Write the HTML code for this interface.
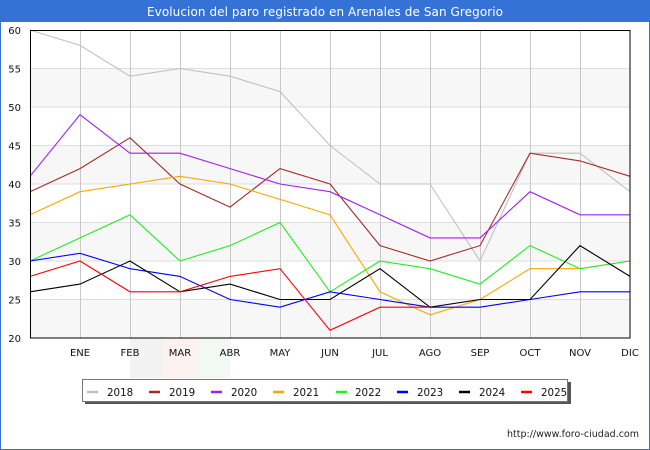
<!DOCTYPE html>
<html><head><meta charset="utf-8"><style>
html,body{margin:0;padding:0;background:#fff;}
svg{display:block;}
text{font-family:"DejaVu Sans","Liberation Sans",sans-serif;}
</style></head><body>
<svg width="650" height="450" viewBox="0 0 650 450" xmlns="http://www.w3.org/2000/svg">
<rect x="0" y="0" width="650" height="450" fill="#fff"/>
<rect x="0.5" y="0.5" width="649" height="449" fill="none" stroke="#3572d5" stroke-width="1"/>
<rect x="0" y="0" width="650" height="22" fill="#3572d5"/>
<text x="325" y="16" font-size="12" fill="#fff" text-anchor="middle" textLength="356">Evolucion del paro registrado en Arenales de San Gregorio</text>

<!-- watermark -->
<rect x="130" y="338" width="33" height="40" fill="#f2f2f2"/>
<rect x="163" y="338" width="34" height="40" fill="#fdf2f2"/>
<rect x="197" y="338" width="33" height="40" fill="#f2f8f2"/>

<!-- bands -->
<rect x="30" y="68.5" width="600" height="38.5" fill="#f7f7f7"/>
<rect x="30" y="145.5" width="600" height="38.5" fill="#f7f7f7"/>
<rect x="30" y="222.5" width="600" height="38.5" fill="#f7f7f7"/>
<rect x="30" y="299.5" width="600" height="38.5" fill="#f7f7f7"/>

<g stroke="#dedede" stroke-width="1">
<line x1="30" y1="68.5" x2="630" y2="68.5"/>
<line x1="30" y1="107" x2="630" y2="107"/>
<line x1="30" y1="145.5" x2="630" y2="145.5"/>
<line x1="30" y1="184" x2="630" y2="184"/>
<line x1="30" y1="222.5" x2="630" y2="222.5"/>
<line x1="30" y1="261" x2="630" y2="261"/>
<line x1="30" y1="299.5" x2="630" y2="299.5"/>
</g>
<g stroke="#c8c8c8" stroke-width="1">
<line x1="80.5" y1="30" x2="80.5" y2="338"/>
<line x1="130.5" y1="30" x2="130.5" y2="338"/>
<line x1="180.5" y1="30" x2="180.5" y2="338"/>
<line x1="230.5" y1="30" x2="230.5" y2="338"/>
<line x1="280.5" y1="30" x2="280.5" y2="338"/>
<line x1="330.5" y1="30" x2="330.5" y2="338"/>
<line x1="380.5" y1="30" x2="380.5" y2="338"/>
<line x1="430.5" y1="30" x2="430.5" y2="338"/>
<line x1="480.5" y1="30" x2="480.5" y2="338"/>
<line x1="530.5" y1="30" x2="530.5" y2="338"/>
<line x1="580.5" y1="30" x2="580.5" y2="338"/>
</g>

<g fill="none" stroke-width="1.1" stroke-linejoin="miter">
<polyline stroke="#c0c0c0" points="30,30 80,45.4 130,76.2 180,68.5 230,76.2 280,91.6 330,145.5 380,184 430,184 480,261 530,153.2 580,153.2 630,191.7"/>
<polyline stroke="#a52a2a" points="30,191.7 80,168.6 130,137.8 180,184 230,207.1 280,168.6 330,184 380,245.6 430,261 480,245.6 530,153.2 580,160.9 630,176.3"/>
<polyline stroke="#a020f0" points="30,176.3 80,114.7 130,153.2 180,153.2 230,168.6 280,184 330,191.7 380,214.8 430,237.9 480,237.9 530,191.7 580,214.8 630,214.8"/>
<polyline stroke="#ffa500" points="30,214.8 80,191.7 130,184 180,176.3 230,184 280,199.4 330,214.8 380,291.8 430,314.9 480,299.5 530,268.7 580,268.7 630,261"/>
<polyline stroke="#22ee22" points="30,261 80,237.9 130,214.8 180,261 230,245.6 280,222.5 330,291.8 380,261 430,268.7 480,284.1 530,245.6 580,268.7 630,261"/>
<polyline stroke="#0000ff" points="30,261 80,253.3 130,268.7 180,276.4 230,299.5 280,307.2 330,291.8 380,299.5 430,307.2 480,307.2 530,299.5 580,291.8 630,291.8"/>
<polyline stroke="#000000" points="30,291.8 80,284.1 130,261 180,291.8 230,284.1 280,299.5 330,299.5 380,268.7 430,307.2 480,299.5 530,299.5 580,245.6 630,276.4"/>
<polyline stroke="#ff0000" points="30,276.4 80,261 130,291.8 180,291.8 230,276.4 280,268.7 330,330.3 380,307.2 430,307.2"/>
</g>

<rect x="30.5" y="30.5" width="599.5" height="307.5" fill="none" stroke="#000" stroke-width="1"/>

<g font-size="10" fill="#111" text-anchor="end">
<text x="21" y="34">60</text>
<text x="21" y="72.5">55</text>
<text x="21" y="111">50</text>
<text x="21" y="149.5">45</text>
<text x="21" y="188">40</text>
<text x="21" y="226.5">35</text>
<text x="21" y="265">30</text>
<text x="21" y="303.5">25</text>
<text x="21" y="342">20</text>
</g>
<g font-size="10" fill="#111" text-anchor="middle">
<text x="80" y="356">ENE</text>
<text x="130" y="356">FEB</text>
<text x="180" y="356">MAR</text>
<text x="230" y="356">ABR</text>
<text x="280" y="356">MAY</text>
<text x="330" y="356">JUN</text>
<text x="380" y="356">JUL</text>
<text x="430" y="356">AGO</text>
<text x="480" y="356">SEP</text>
<text x="530" y="356">OCT</text>
<text x="580" y="356">NOV</text>
<text x="630" y="356">DIC</text>
</g>

<!-- legend -->
<rect x="85" y="382" width="486" height="22" fill="#555"/>
<rect x="82.5" y="379.5" width="485" height="22" fill="#fff" stroke="#777" stroke-width="1"/>
<g stroke-width="2.5">
<line x1="87" y1="392" x2="98" y2="392" stroke="#c0c0c0"/>
<line x1="149" y1="392" x2="160" y2="392" stroke="#a52a2a"/>
<line x1="211" y1="392" x2="222" y2="392" stroke="#a020f0"/>
<line x1="273" y1="392" x2="284" y2="392" stroke="#ffa500"/>
<line x1="336" y1="392" x2="347" y2="392" stroke="#22ee22"/>
<line x1="397" y1="392" x2="408" y2="392" stroke="#0000ff"/>
<line x1="459" y1="392" x2="470" y2="392" stroke="#000"/>
<line x1="521" y1="392" x2="532" y2="392" stroke="#ff0000"/>
</g>
<g font-size="10.3" fill="#111">
<text x="107" y="396">2018</text>
<text x="169" y="396">2019</text>
<text x="231" y="396">2020</text>
<text x="293" y="396">2021</text>
<text x="355" y="396">2022</text>
<text x="417" y="396">2023</text>
<text x="479" y="396">2024</text>
<text x="541" y="396">2025</text>
</g>

<text x="507" y="437" font-size="9.5" fill="#222" textLength="132">http://www.foro-ciudad.com</text>
</svg>
</body></html>
